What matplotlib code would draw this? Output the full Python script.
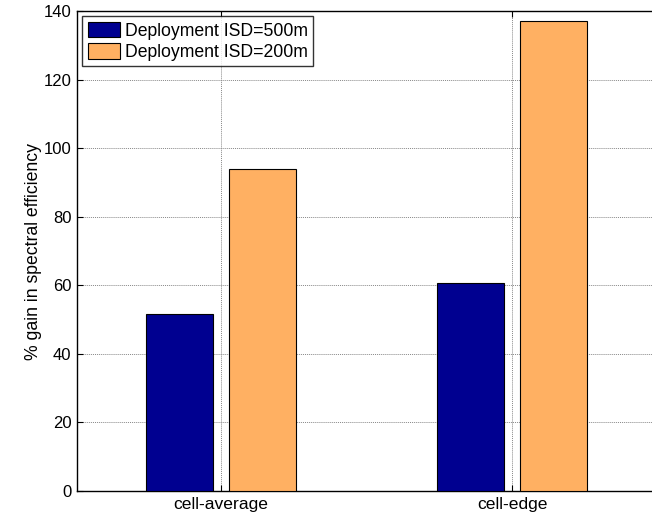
import matplotlib
matplotlib.use("Agg")
import matplotlib.pyplot as plt
import numpy as np

categories = ["cell-average", "cell-edge"]
series_names = ["Deployment ISD=500m", "Deployment ISD=200m"]
isd500 = [51.5, 60.7]
isd200 = [94.0, 137.0]
yticks = [0, 20, 40, 60, 80, 100, 120, 140]

colors = ["#000090", "#FFB062"]

plt.rcParams['font.family'] = ['Liberation Sans', 'DejaVu Sans']

fig = plt.figure(figsize=(6.52, 5.16), dpi=100)
W, H = 652, 516
left, right, top, bottom = 77, 662, 11, 491
ax = fig.add_axes([left / W, 1 - bottom / H, (right - left) / W, (bottom - top) / H])

# category centres at x=1,2; xlim chosen so that category 1 lands at 221 px, category 2 at 512 px
px_per_unit = 291.0
x = np.arange(1, len(categories) + 1)
bw = 0.23
off = 0.143
ax.bar(x - off, isd500, width=bw, color=colors[0], edgecolor="black", linewidth=0.8,
       label=series_names[0], zorder=3)
ax.bar(x + off, isd200, width=bw, color=colors[1], edgecolor="black", linewidth=0.8,
       label=series_names[1], zorder=3)

x0 = 1 - (221 - left) / px_per_unit
ax.set_xlim(x0, x0 + (right - left) / px_per_unit)
ax.set_ylim(0, 140)
ax.set_xticks(x)
ax.set_xticklabels(categories, fontsize=12.6)
ax.set_yticks(yticks)
ax.set_yticklabels([str(v) for v in yticks], fontsize=12)
ax.tick_params(direction="in", length=4, width=0.8, top=True, right=False, pad=4)
ax.grid(True, color="#888888", linestyle=(0, (1, 1)), linewidth=0.7, zorder=0)
ax.set_axisbelow(True)
for s in ax.spines.values():
    s.set_linewidth(1.0)
ax.spines["right"].set_visible(False)
ax.set_ylabel("% gain in spectral efficiency", fontsize=12.7, labelpad=1)

leg = ax.legend(loc="upper left", fontsize=12.7, frameon=True, fancybox=False,
                edgecolor="black", borderpad=0.3, handlelength=1.85, handleheight=1.0,
                handletextpad=0.25, labelspacing=0.2, borderaxespad=0.3)
leg.get_frame().set_linewidth(1.0)

fig.savefig("out.png", dpi=100)
